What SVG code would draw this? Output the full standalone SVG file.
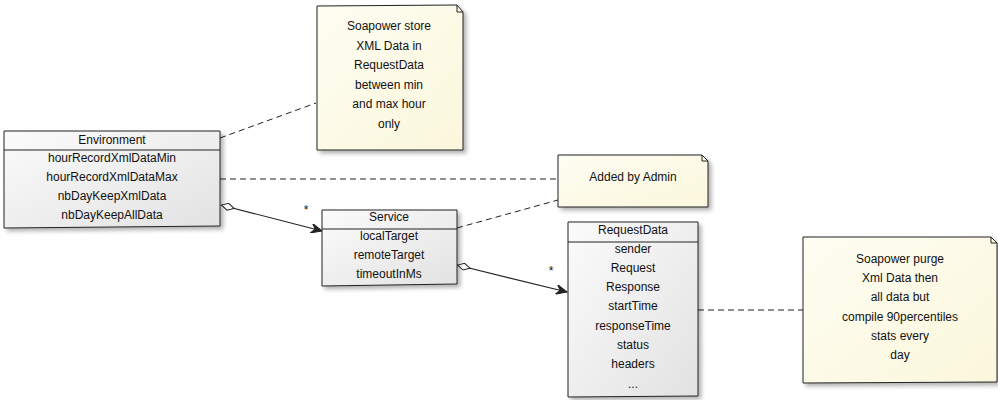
<svg xmlns="http://www.w3.org/2000/svg" width="998" height="400" viewBox="0 0 998 400">
<defs>
<linearGradient id="cls" x1="0" y1="0" x2="1" y2="1">
<stop offset="0" stop-color="#fbfbfb"/>
<stop offset="1" stop-color="#e2e2e2"/>
</linearGradient>
<linearGradient id="note" x1="0" y1="0" x2="1" y2="1">
<stop offset="0" stop-color="#fefdf2"/>
<stop offset="1" stop-color="#fbf7dc"/>
</linearGradient>
<filter id="sh" x="-10%" y="-10%" width="130%" height="130%">
<feGaussianBlur in="SourceAlpha" stdDeviation="2"/>
<feOffset dx="3" dy="3"/>
<feComponentTransfer><feFuncA type="linear" slope="0.3"/></feComponentTransfer>
<feMerge><feMergeNode/><feMergeNode in="SourceGraphic"/></feMerge>
</filter>
<marker id="arr" viewBox="0 0 12 10" refX="11" refY="5" markerWidth="12" markerHeight="10" orient="auto" markerUnits="userSpaceOnUse">
<path d="M0,0 L11,5 L0,10 L4,5 Z" fill="#222" stroke="#222" stroke-width="1"/>
</marker>
<marker id="dia" viewBox="0 0 14 8" refX="0" refY="4" markerWidth="14" markerHeight="8" orient="auto" markerUnits="userSpaceOnUse">
<path d="M0.5,4 L7,0.5 L13.5,4 L7,7.5 Z" fill="#fff" stroke="#222" stroke-width="1"/>
</marker>
</defs>
<style>
text{font-family:"Liberation Sans",Arial,sans-serif;font-size:12px;fill:#111;text-anchor:middle}
.box{fill:url(#cls);stroke:#222;stroke-width:1;filter:url(#sh)}
.nt{fill:url(#note);stroke:#222;stroke-width:1;filter:url(#sh)}
.fold{fill:none;stroke:#222;stroke-width:1}
.sep{stroke:#222;stroke-width:1}
.dash{stroke:#222;stroke-width:1;stroke-dasharray:6,4;fill:none}
.link{stroke:#222;stroke-width:1.2;fill:none}
</style>
<g id="connectors">
<path class="dash" d="M220,138 L316,103"/>
<path class="dash" d="M220,179 L558,179"/>
<path class="dash" d="M457,228 L558,200"/>
<path class="dash" d="M698,310 L803,310"/>
<path class="link" d="M221,205 L322,231" marker-start="url(#dia)" marker-end="url(#arr)"/>
<path class="link" d="M457,265 L567,292" marker-start="url(#dia)" marker-end="url(#arr)"/>
<text x="306" y="214">*</text>
<text x="551" y="275">*</text>
</g>
<g id="Environment">
<path class="box" d="M4,131 L220,131 L220,226 L4,228 Z"/>
<line class="sep" x1="4" y1="150" x2="220" y2="150"/>
<text x="112" y="144">Environment</text>
<text x="112" y="162">hourRecordXmlDataMin</text>
<text x="112" y="181">hourRecordXmlDataMax</text>
<text x="112" y="200">nbDayKeepXmlData</text>
<text x="112" y="219">nbDayKeepAllData</text>
</g>
<g id="note1">
<path class="nt" d="M317,6 L457,5 L463,12 L463,150 L317,150 Z"/>
<path class="fold" d="M457,5 L457,12 L463,12"/>
<text x="389" y="30">Soapower store</text>
<text x="389" y="50">XML Data in</text>
<text x="389" y="69">RequestData</text>
<text x="389" y="89">between min</text>
<text x="389" y="108">and max hour</text>
<text x="389" y="128">only</text>
</g>
<g id="note2">
<path class="nt" d="M558,155 L702,155 L708,161 L708,207 L558,207 Z"/>
<path class="fold" d="M702,155 L702,161 L708,161"/>
<text x="633" y="181">Added by Admin</text>
</g>
<g id="Service">
<path class="box" d="M322,210 L457,210 L457,284 L322,286 Z"/>
<line class="sep" x1="322" y1="229" x2="457" y2="229"/>
<text x="389" y="221">Service</text>
<text x="389" y="240">localTarget</text>
<text x="389" y="259">remoteTarget</text>
<text x="389" y="278">timeoutInMs</text>
</g>
<g id="RequestData">
<path class="box" d="M568,222 L698,222 L698,396 L568,397 Z"/>
<line class="sep" x1="568" y1="242" x2="698" y2="242"/>
<text x="633" y="234">RequestData</text>
<text x="633" y="253">sender</text>
<text x="633" y="272">Request</text>
<text x="633" y="291">Response</text>
<text x="633" y="310">startTime</text>
<text x="633" y="330">responseTime</text>
<text x="633" y="349">status</text>
<text x="633" y="368">headers</text>
<text x="633" y="388">...</text>
</g>
<g id="note3">
<path class="nt" d="M803,237 L991,237 L997,243 L997,382 L803,383 Z"/>
<path class="fold" d="M991,237 L991,243 L997,243"/>
<text x="900" y="263">Soapower purge</text>
<text x="900" y="282">Xml Data then</text>
<text x="900" y="301">all data but</text>
<text x="900" y="321">compile 90percentiles</text>
<text x="900" y="340">stats every</text>
<text x="900" y="359">day</text>
</g>
</svg>
